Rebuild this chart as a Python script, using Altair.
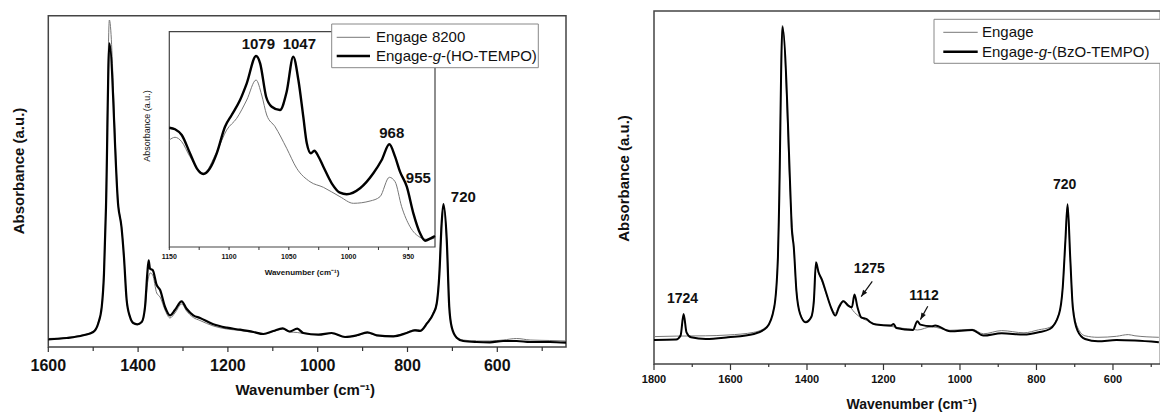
import altair as alt
import pandas as pd

FONT = "Liberation Sans"
INK = "#111111"
FRAME = "#444444"
THIN = "#777777"

# ---------------- Left panel, main spectrum (a.u.) ----------------
left_thick_wn = [1600, 1559, 1522, 1500, 1489, 1481, 1476, 1471.5, 1464, 1444, 1437, 1431.5,
                 1425.5, 1418, 1411, 1402, 1392, 1384.6, 1379.5, 1376.5, 1373.5, 1367.5, 1358.6,
                 1351, 1340, 1329, 1318, 1303, 1292, 1277, 1262, 1232.5, 1202.6, 1173, 1143, 1121,
                 1099, 1078, 1063, 1045.5, 1032, 998.7, 969, 939, 913, 889.5, 868.6, 831.6, 802,
                 783.3, 772, 757, 742.5, 735, 729, 724, 720, 712.6, 707, 701.6, 690.5, 676, 646,
                 616.6, 587, 557, 527, 483, 447]
left_thick_ab = [7.7, 9, 11.7, 15, 23.3, 40, 73.3, 140, 303.7, 140, 120, 90,
                 47, 30, 24, 22.7, 25, 40, 73.3, 86.7, 78.3, 77, 62,
                 57, 40, 31.7, 37, 45.7, 38.3, 31.7, 29, 22.7, 19.3, 17.3, 15, 13,
                 16, 18.7, 15.5, 18.3, 14, 12.3, 14, 10, 11.7, 14.7, 11.7, 10.7, 14,
                 16.7, 16, 23.3, 33.3, 43.3, 73.3, 123.3, 143, 107, 40, 20, 9.3, 6, 5,
                 4.7, 6, 6, 5, 5, 4.3]
left_thin_wn = [1600, 1559, 1522, 1500, 1489, 1481, 1476, 1471.5, 1464, 1444, 1437, 1431.5,
                1425.5, 1418, 1411, 1402, 1392, 1384.6, 1379.5, 1373, 1367.5, 1358.6, 1351,
                1340, 1329, 1318, 1303, 1292, 1277, 1262, 1232.5, 1202.6, 1173, 1143, 1121,
                1099, 1078, 1063, 1045.5, 1032, 998.7, 969, 939, 913, 889.5, 868.6, 831.6, 802,
                783.3, 772, 757, 742.5, 735, 729, 724, 720, 712.6, 707, 701.6, 690.5, 676, 646,
                616.6, 587, 557, 527, 483, 447]
left_thin_ab = [8.5, 9.5, 12.3, 15.5, 24, 41, 75, 145, 327, 142, 121, 90,
                47, 30, 24, 22.5, 24.5, 38, 62, 74, 72, 54, 50,
                37, 29, 34, 43, 36, 29.5, 26.5, 21, 18, 16.5, 14.5, 13,
                15.5, 18, 15, 14.5, 13.5, 12.3, 13.5, 10, 11.7, 14, 11.7, 11, 14.5,
                17.5, 17, 24.5, 34.5, 45, 75, 125, 141, 106, 41, 21, 10, 7, 6,
                6, 7, 8.5, 7, 6.5, 6]

# ---------------- Left panel, inset (1150-930 cm-1) ----------------
inset_thick_wn = [1150, 1145.2, 1139.6, 1132.7, 1127, 1121.5, 1116, 1110.3, 1103.4, 1097.8,
                  1090.8, 1085.2, 1077.4, 1074, 1069, 1064.3, 1057.4, 1051.8, 1046.3, 1042,
                  1037.9, 1035, 1031.5, 1028.7, 1025, 1021.1, 1014.1, 1007.2, 1001.6, 990.4,
                  979.3, 972.3, 965.9, 961.1, 957, 951.3, 945.8, 940.2, 936, 931.3, 927.7]
inset_thick_ab = [119.3, 117.7, 112, 93.7, 78.7, 73, 78.7, 93.7, 120.3, 132,
                  147, 163.7, 191, 183.7, 150.3, 140.3, 137, 155.3, 190.3, 167,
                  130.3, 104, 93.7, 96.3, 90, 80.3, 63.7, 54.3, 52.7, 58.7,
                  73.7, 87, 102.7, 90.3, 75.3, 60.3, 33.7, 13.7, 6.3, 8.7, 11]
inset_thin_wn = [1150, 1145.2, 1139.6, 1132.7, 1121.5, 1110.3, 1102, 1093.6, 1085.2, 1077.4,
                 1072.7, 1068.5, 1061.5, 1051.8, 1043.4, 1032.3, 1021.1, 1007.2, 996, 982,
                 973.7, 965.9, 961.1, 955.6, 948.6, 940.2, 934.6, 927.7]
inset_thin_ab = [107, 109.7, 105.3, 90.3, 73.7, 95.3, 117, 128.7, 147, 167,
                 152, 132, 120.3, 98.7, 78.7, 65.3, 59.7, 50.3, 43.7, 46,
                 50.3, 69.7, 65.3, 40.3, 20.3, 9.7, 7.7, 8.7]

# ---------------- Right panel ----------------
right_thick_wn = [1800, 1742, 1730.5, 1722.6, 1715, 1703.3, 1664.6, 1606.5, 1538.8, 1505, 1485.7,
                  1476, 1473, 1464.2, 1442, 1440, 1434.5, 1427.7, 1418, 1403.5, 1389, 1382,
                  1376.5, 1369.7, 1360, 1350.3, 1335.7, 1326, 1316.3, 1304.8, 1292.3, 1282.6,
                  1275.8, 1268, 1258.3, 1244, 1234.3, 1219.6, 1181, 1173.4, 1166.6, 1123,
                  1111.4, 1103.6, 1074.5, 1065, 1026, 968, 939, 891, 832.7, 794.3, 765, 741,
                  731.3, 724.4, 718.7, 711.8, 705, 692.6, 673, 639.2, 591, 542.5, 480]
right_thick_ab = [24, 24.4, 28.4, 50, 31.7, 26.7, 25, 26.7, 30, 36.7, 56.7,
                  106.7, 156.7, 337, 157, 136.7, 116.7, 73.4, 50, 41.7, 46.7, 63.4,
                  101.7, 91.7, 83.4, 71.7, 55, 48.4, 56.7, 62.7, 58.4, 56.7,
                  69.4, 56.7, 46.7, 45, 41.7, 39.4, 38.4, 40, 36, 34,
                  42.7, 39.4, 37.7, 38.4, 32.7, 34, 28.4, 30.7, 29.4, 31.7, 35, 50,
                  76.7, 123.4, 159.7, 106.7, 56.7, 33.4, 25, 22.7, 24, 23.4, 21.7]
right_thin_wn = [1800, 1742, 1664.6, 1606.5, 1538.8, 1505, 1485.7, 1476, 1473, 1464.2, 1442,
                 1434.5, 1427.7, 1418, 1403.5, 1389, 1382, 1376.5, 1369.7, 1360, 1350.3,
                 1335.7, 1326, 1316.3, 1304.8, 1292.3, 1276, 1258.3, 1234.3, 1219.6, 1181,
                 1150, 1123, 1111.4, 1074.5, 1026, 968, 939, 891, 832.7, 794.3, 765, 741,
                 731.3, 724.4, 718.7, 711.8, 705, 692.6, 673, 639.2, 591, 560, 542.5, 480]
right_thin_ab = [27.4, 27.9, 28.2, 29, 31.7, 37.7, 57.7, 106.7, 156.7, 338.7, 156.7,
                 116.7, 73.7, 50.7, 42.7, 47.7, 61.7, 96.7, 90.7, 81.7, 70.7,
                 55.7, 50.7, 58.7, 63.4, 59.7, 51.7, 46.2, 42.2, 39.7, 37.7,
                 35.7, 34.7, 34, 37.2, 33.7, 34.7, 30.2, 33.4, 31.2, 34.2, 36.7, 50.7,
                 76.7, 121.7, 157.7, 106.7, 58.7, 36.7, 28.2, 26.7, 27.7, 29.4, 28.2, 26.7]

# ---------------- Tick values / labels ----------------
left_ticks = [1600, 1500, 1400, 1300, 1200, 1100, 1000, 900, 800, 700, 600, 500]
left_labels = ["1600", "1400", "1200", "1000", "800", "600"]
inset_ticks = [1150, 1125, 1100, 1075, 1050, 1025, 1000, 975, 950]
inset_labels = ["1150", "1100", "1050", "1000", "950"]
right_ticks = [1800, 1700, 1600, 1500, 1400, 1300, 1200, 1100, 1000, 900, 800, 700, 600, 500]
right_labels = ["1800", "1600", "1400", "1200", "1000", "800", "600"]

# ---------------- Annotations ----------------
left_ann_wn = [675.7]
left_ann_ab = [149.7]
left_ann_txt = ["720"]
inset_ann_wn = [1075.5, 1041.2, 963.9, 941.6]
inset_ann_ab = [202.7, 202.7, 113.7, 68.7]
inset_ann_txt = ["1079", "1047", "968", "955"]
right_ann_wn = [1725.5, 1237.1, 1094.1, 726.5]
right_ann_ab = [65, 95, 68.4, 179.4]
right_ann_txt = ["1724", "1275", "1112", "720"]
arrow_wn = [1229.3, 1084.2]
arrow_ab = [82.7, 57.7]
arrow_tip_wn = [1258.3, 1103.5]
arrow_tip_ab = [67.4, 44.4]
arrow_angle = [216, 209]

# ---------------- Layout (pixels) ----------------
W, H = 1160, 414
L_X = [48.3, 566.0]; L_Y = [347.0, 15.7]; L_DOM = [447, 1600]; L_YDOM = [0, 331.3]
I_X = [169.3, 435.0]; I_Y = [247.0, 31.7]; I_DOM = [927.7, 1150]; I_YDOM = [0, 215.3]
R_X = [654.0, 1160.4]; R_Y = [364.0, 11.0]; R_DOM = [476, 1800]; R_YDOM = [0, 353.0]
XTITLE = "Wavenumber (cm⁻¹)"
YTITLE = "Absorbance (a.u.)"


def sx(dom, rng):
    return alt.Scale(domain=dom, range=[rng[1], rng[0]], nice=False, zero=False)


def sy(dom, rng):
    return alt.Scale(domain=dom, range=rng, nice=False, zero=False)


def line(wn, ab, xscale, yscale, color, width):
    df = pd.DataFrame({"wn": wn, "ab": ab, "i": list(range(len(wn)))})
    return alt.Chart(df).mark_line(color=color, strokeWidth=width, strokeJoin="round",
                                   interpolate="monotone").encode(
        x=alt.X("wn:Q", scale=xscale, axis=None),
        y=alt.Y("ab:Q", scale=yscale, axis=None),
        order=alt.Order("i:Q"),
    )


def frame(dom, ydom, xscale, yscale, fill, width):
    df = pd.DataFrame({"x1": [dom[0]], "x2": [dom[1]], "y1": [ydom[0]], "y2": [ydom[1]]})
    return alt.Chart(df).mark_rect(fill=fill, stroke=FRAME, strokeWidth=width).encode(
        x=alt.X("x1:Q", scale=xscale, axis=None), x2="x2:Q",
        y=alt.Y("y1:Q", scale=yscale, axis=None), y2="y2:Q",
    )


def annotations(wn, ab, txt, xscale, yscale, size):
    df = pd.DataFrame({"wn": wn, "ab": ab, "t": txt})
    return alt.Chart(df).mark_text(font=FONT, fontSize=size, fontWeight="bold", color=INK,
                                   align="center", baseline="middle").encode(
        x=alt.X("wn:Q", scale=xscale, axis=None),
        y=alt.Y("ab:Q", scale=yscale, axis=None),
        text="t:N",
    )


def ticks(values, xscale, y0, major_len, minor_len, major_step, width=1.2):
    df = pd.DataFrame({"v": values})
    major = df[df["v"] % major_step == 0]
    minor = df[df["v"] % major_step != 0]
    out = []
    for part, ln in ((major, major_len), (minor, minor_len)):
        if len(part):
            out.append(alt.Chart(part).mark_rule(color="#333", strokeWidth=width).encode(
                x=alt.X("v:Q", scale=xscale, axis=None),
                y=alt.value(y0), y2=alt.value(y0 + ln)))
    return out


def tick_labels(labels, xscale, yc, size):
    df = pd.DataFrame({"v": [float(t) for t in labels], "t": labels})
    return alt.Chart(df).mark_text(font=FONT, fontSize=size, fontWeight="bold", color=INK,
                                   align="center", baseline="middle").encode(
        x=alt.X("v:Q", scale=xscale, axis=None), y=alt.value(yc), text="t:N")


one = pd.DataFrame({"a": [0]})


def title(x, y, text, size, weight="bold", angle=0):
    return alt.Chart(one).mark_text(font=FONT, fontSize=size, fontWeight=weight, color=INK,
                                    align="center", baseline="middle", angle=angle).encode(
        x=alt.value(x), y=alt.value(y), text=alt.value(text))


# ---------- Left main ----------
lxs, lys = sx(L_DOM, L_X), sy(L_YDOM, L_Y)
left_main = alt.layer(
    frame(L_DOM, L_YDOM, lxs, lys, "transparent", 1.5),
    line(left_thin_wn, left_thin_ab, lxs, lys, THIN, 1.0),
    line(left_thick_wn, left_thick_ab, lxs, lys, "#000", 2.2),
    annotations(left_ann_wn, left_ann_ab, left_ann_txt, lxs, lys, 15),
    *ticks(left_ticks, lxs, L_Y[0], 5, 4, 200),
    tick_labels(left_labels, lxs, 366.2, 16),
)

# ---------- Inset ----------
ixs, iys = sx(I_DOM, I_X), sy(I_YDOM, I_Y)
inset = alt.layer(
    frame(I_DOM, I_YDOM, ixs, iys, "white", 1.2),
    line(inset_thin_wn, inset_thin_ab, ixs, iys, THIN, 1.0),
    line(inset_thick_wn, inset_thick_ab, ixs, iys, "#000", 2.4),
    annotations(inset_ann_wn, inset_ann_ab, inset_ann_txt, ixs, iys, 15),
    *ticks(inset_ticks, ixs, I_Y[0], 3, 3, 50, 1.0),
    tick_labels(inset_labels, ixs, 257.4, 7),
)

# ---------- Right panel ----------
rxs, rys = sx(R_DOM, R_X), sy(R_YDOM, R_Y)
arrows_df = pd.DataFrame({"wn": arrow_wn, "ab": arrow_ab, "wn2": arrow_tip_wn,
                          "ab2": arrow_tip_ab, "ang": arrow_angle})
arrow_lines = alt.Chart(arrows_df).mark_rule(color=INK, strokeWidth=1.2).encode(
    x=alt.X("wn:Q", scale=rxs, axis=None), x2="wn2:Q",
    y=alt.Y("ab:Q", scale=rys, axis=None), y2="ab2:Q",
)
arrow_heads = alt.Chart(arrows_df).mark_point(
    shape="M0,0L-0.6,1.6L0.6,1.6Z", filled=True, color=INK, size=70, opacity=1
).encode(
    x=alt.X("wn2:Q", scale=rxs, axis=None),
    y=alt.Y("ab2:Q", scale=rys, axis=None),
    angle=alt.Angle("ang:Q", scale=None),
)
right = alt.layer(
    frame(R_DOM, R_YDOM, rxs, rys, "transparent", 1.5),
    line(right_thin_wn, right_thin_ab, rxs, rys, THIN, 1.0),
    line(right_thick_wn, right_thick_ab, rxs, rys, "#000", 2.0),
    annotations(right_ann_wn, right_ann_ab, right_ann_txt, rxs, rys, 14),
    arrow_lines,
    arrow_heads,
    *ticks(right_ticks, rxs, R_Y[0], 6, 3, 200),
    tick_labels(right_labels, rxs, 380.4, 11),
)

# ---------- Axis titles ----------
titles = [
    title(305.2, 389.6, XTITLE, 15),
    title(19.2, 171, YTITLE, 15, angle=270),
    title(302, 273.2, XTITLE, 8),
    title(147.2, 126, YTITLE, 9, weight="normal", angle=270),
    title(911.7, 404.5, XTITLE, 14),
    title(623.9, 178.5, YTITLE, 15, angle=270),
]

# ---------- Legends (drawn on top) ----------


def box(x1, x2, y1, y2):
    return alt.Chart(one).mark_rect(fill="white", stroke="#888", strokeWidth=1).encode(
        x=alt.value(x1), x2=alt.value(x2), y=alt.value(y1), y2=alt.value(y2))


def sample(x1, x2, y, color, width):
    return alt.Chart(one).mark_rule(color=color, strokeWidth=width).encode(
        x=alt.value(x1), x2=alt.value(x2), y=alt.value(y))


def label(x, y, text, style="normal"):
    return alt.Chart(one).mark_text(font=FONT, fontSize=15, fontStyle=style, color=INK,
                                    align="left", baseline="middle").encode(
        x=alt.value(x), y=alt.value(y), text=alt.value(text))


def grafted(x, y, tail):
    gx = x + 15 * 3.78
    return [label(x, y, "Engage-"), label(gx, y, "g", "italic"), label(gx + 15 * 0.556, y, tail)]


legend_left = [
    box(331.7, 538.3, 24, 67.7),
    sample(336.7, 370, 37.3, THIN, 1.0),
    sample(336.7, 370, 56, "#000", 2.5),
    label(376, 36.8, "Engage 8200"),
] + grafted(376, 55.5, "-(HO-TEMPO)")

legend_right = [
    box(934, 1175, 19.3, 63.3),
    sample(943.3, 977.7, 32.3, THIN, 1.0),
    sample(943.3, 977.7, 51.7, "#000", 2.5),
    label(982, 32.0, "Engage"),
] + grafted(982, 51.5, "-(BzO-TEMPO)")

chart = alt.layer(
    left_main, inset, right, *titles, *legend_left, *legend_right
).resolve_scale(
    x="independent", y="independent"
).properties(
    width=W, height=H, padding=0, autosize=alt.AutoSizeParams(type="none"),
    background="white",
).configure_view(strokeWidth=0)

chart.save("out.html", embed_options={"renderer": "svg", "actions": False})
